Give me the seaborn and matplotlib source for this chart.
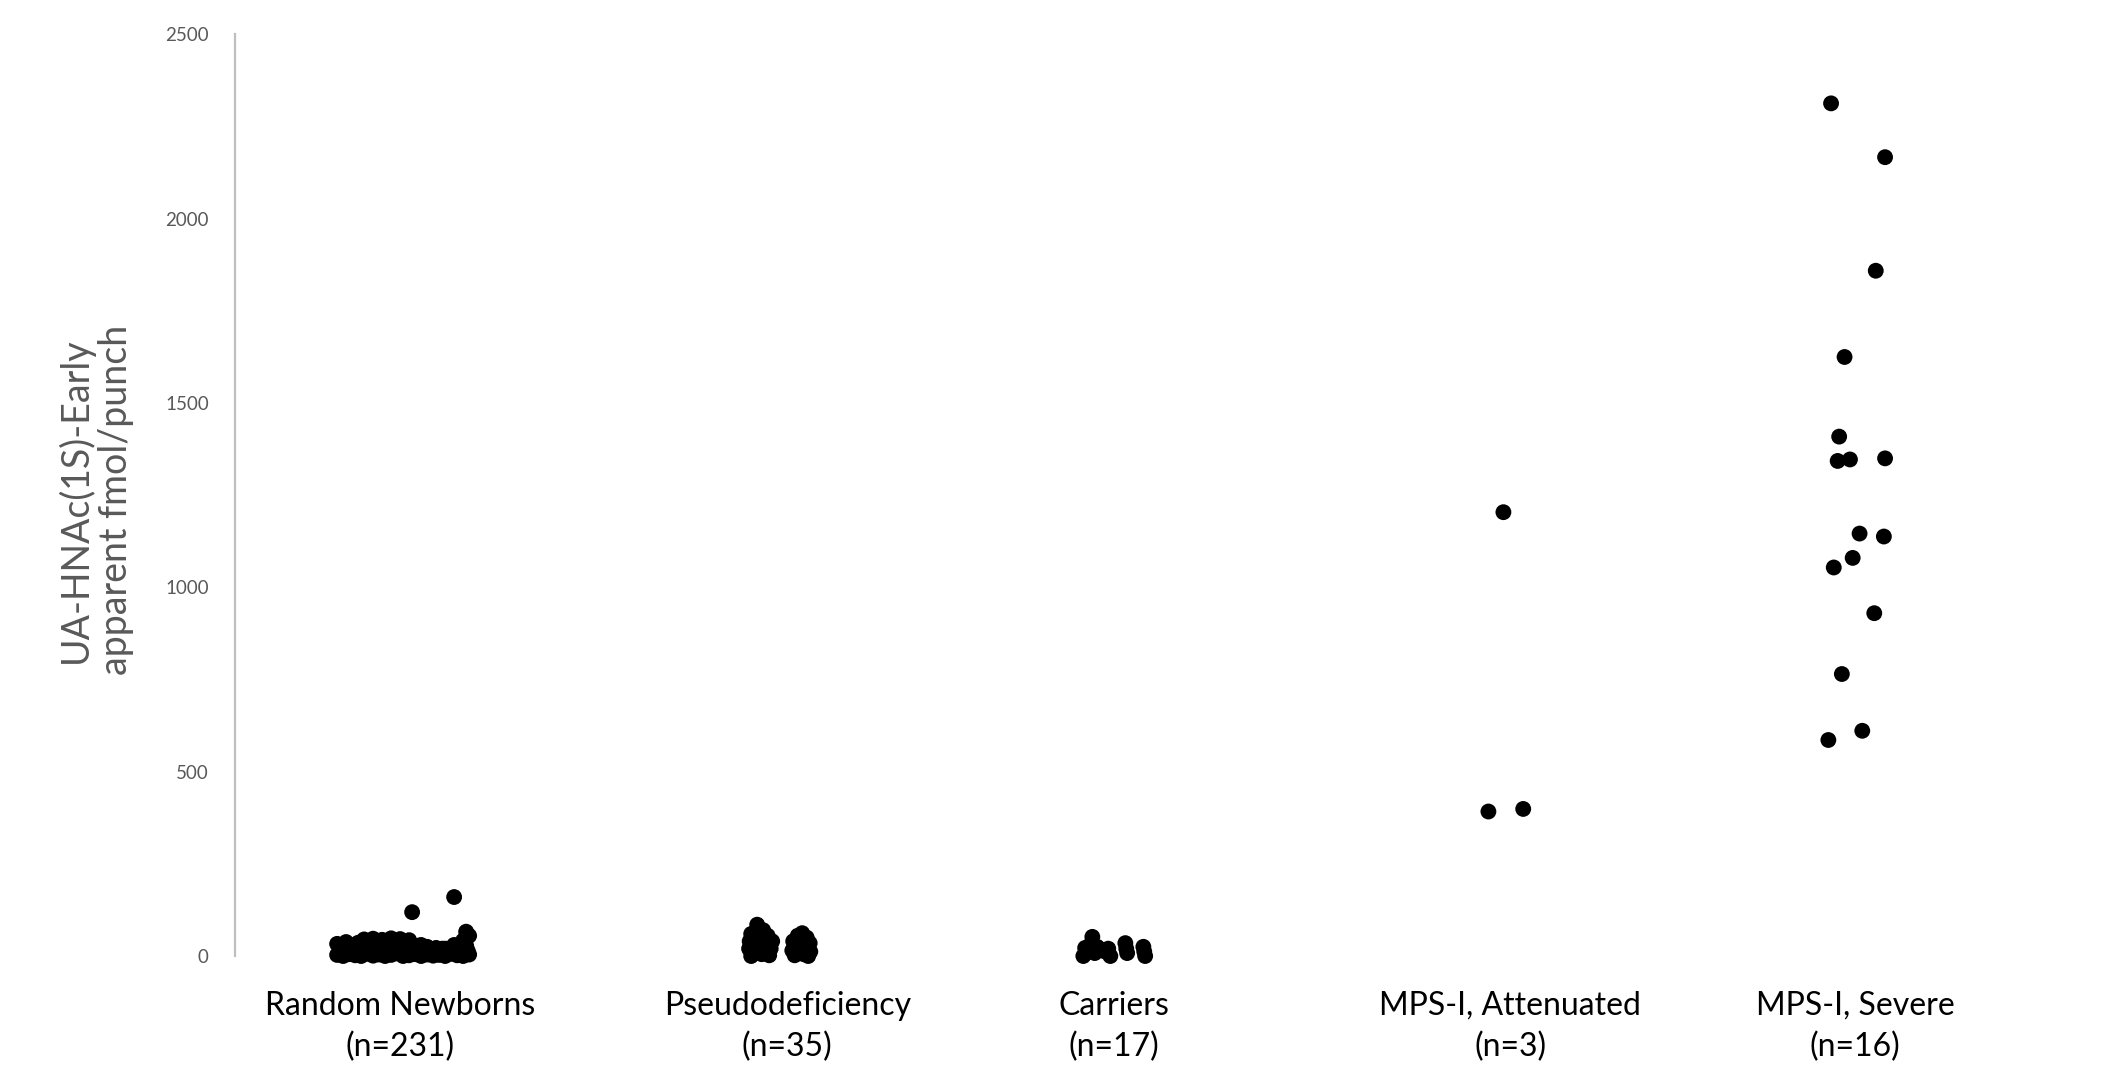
import matplotlib
matplotlib.use("Agg")
import matplotlib.pyplot as plt
import seaborn as sns
import pandas as pd

# group labels
groups = ["Random Newborns", "Pseudodeficiency", "Carriers", "MPS-I, Attenuated", "MPS-I, Severe"]
counts = [231, 35, 17, 3, 16]

# values (fmol/punch) and horizontal jitter
newborn_jit = [-0.21, -0.19, -0.17, -0.15, -0.13, -0.11, -0.09, -0.07, -0.05, -0.03, -0.01, 0.01,
               0.03, 0.05, 0.07, 0.09, 0.11, 0.13, 0.15, 0.17, 0.19, 0.21, 0.23,
               -0.20, -0.18, -0.16, -0.14, -0.12, -0.10, -0.08, -0.06, -0.04, -0.02, 0.00, 0.02,
               0.04, 0.06, 0.08, 0.10, 0.12, 0.14, 0.16, 0.18, 0.20, 0.22,
               -0.21, -0.18, -0.15, -0.12, -0.09, -0.06, -0.03, 0.00, 0.03, 0.06, 0.09, 0.12,
               0.15, 0.18, 0.21, 0.23, 0.22, 0.04, 0.18,
               -0.195, -0.165, -0.135, -0.105, -0.075, -0.045, -0.015, 0.015, 0.045, 0.075,
               0.105, 0.135, 0.165, 0.195, 0.225,
               -0.19, -0.14, -0.10, -0.05, 0.01, 0.07, 0.13, 0.17, 0.215]
newborn_val = [3, 0, 5, 2, 0, 6, 1, 4, 0, 3, 7, 0, 2, 5, 0, 4, 1, 3, 0, 6, 2, 0, 4,
               18, 22, 15, 20, 25, 17, 23, 19, 21, 16, 24, 20, 18, 15, 14, 17, 12, 20, 16, 22, 25, 28,
               33, 38, 30, 45, 47, 44, 48, 46, 43, 28, 25, 22, 20, 30, 42, 55, 66, 119, 160,
               10, 12, 9, 11, 13, 8, 10, 12, 9, 8, 7, 10, 9, 12, 15,
               30, 36, 40, 35, 38, 30, 18, 20, 40]

pseudo_jit = [-0.10, -0.08, -0.12, -0.065, -0.125, -0.11, -0.09, -0.07, -0.05, -0.127, -0.115, -0.10,
              -0.085, -0.07, -0.055, -0.12, -0.095, -0.06,
              0.05, 0.035, 0.065, 0.02, 0.075, 0.045, 0.03, 0.06, 0.017, 0.077, 0.04, 0.055,
              0.025, 0.07, 0.05, 0.035, 0.065]
pseudo_val = [85, 70, 60, 55, 40, 45, 35, 30, 40, 20, 10, 15, 5, 12, 20, 0, 25, 2,
              62, 55, 50, 40, 35, 40, 25, 22, 15, 12, 10, 5, 2, 0, 30, 18, 45]

carrier_jit = [-0.103, -0.097, -0.073, -0.057, -0.03, -0.013, 0.037, 0.043, 0.097, 0.103,
               -0.09, -0.08, -0.065, -0.045, -0.02, 0.04, 0.10]
carrier_val = [0, 22, 52, 25, 12, 0, 35, 8, 25, 0, 10, 30, 8, 18, 20, 20, 12]

atten_jit = [-0.023, -0.073, 0.043]
atten_val = [1204, 392, 399]

severe_jit = [-0.081, 0.099, 0.068, -0.036, -0.054, -0.059, -0.018, 0.099, 0.014, 0.095,
              -0.009, -0.072, 0.063, -0.045, 0.023, -0.09]
severe_val = [2313, 2167, 1859, 1625, 1409, 1343, 1347, 1350, 1146, 1138,
              1080, 1054, 930, 765, 611, 586]

y_ticks = [0, 500, 1000, 1500, 2000, 2500]


def main():
    sns.set_style("white")
    plt.rcParams["font.family"] = ["Lato", "DejaVu Sans"]

    centers = [0.55, 1.84, 2.93, 4.25, 5.40]
    jitters = [newborn_jit, pseudo_jit, carrier_jit, atten_jit, severe_jit]
    values = [newborn_val, pseudo_val, carrier_val, atten_val, severe_val]

    rows = []
    for g, c, jit, val in zip(groups, centers, jitters, values):
        for j, v in zip(jit, val):
            rows.append({"group": g, "x": c + j, "value": v})
    df = pd.DataFrame(rows)

    fig = plt.figure(figsize=(21.18, 10.76), dpi=100)
    ax = fig.add_axes([0.111, 0.1115, 0.85, 0.8565])

    sns.scatterplot(data=df, x="x", y="value", color="black", s=130,
                    edgecolor="none", linewidth=0, clip_on=False, ax=ax, legend=False)

    ax.set_xlim(0, 6.0)
    ax.set_ylim(0, 2500)
    ax.set_yticks(y_ticks)
    ax.set_yticklabels([str(t) for t in y_ticks], color="#595959", fontsize=13.5)
    ax.set_xticks(centers)
    ax.set_xticklabels([f"{g}\n(n={n})" for g, n in zip(groups, counts)],
                       fontsize=23, color="black", linespacing=1.45)
    ax.tick_params(axis="y", length=0, pad=19)
    ax.tick_params(axis="x", length=0, pad=25)

    for side in ["top", "right", "bottom"]:
        ax.spines[side].set_visible(False)
    ax.spines["left"].set_color("#bfbfbf")
    ax.spines["left"].set_linewidth(1.6)

    ax.set_xlabel("")
    ax.set_ylabel("UA-HNAc(1S)-Early\napparent fmol/punch", color="#595959",
                  fontsize=27, linespacing=1.15)
    ax.yaxis.set_label_coords(-0.056, 0.495)

    fig.savefig("out.png", dpi=100)
    plt.close(fig)


if __name__ == "__main__":
    main()
